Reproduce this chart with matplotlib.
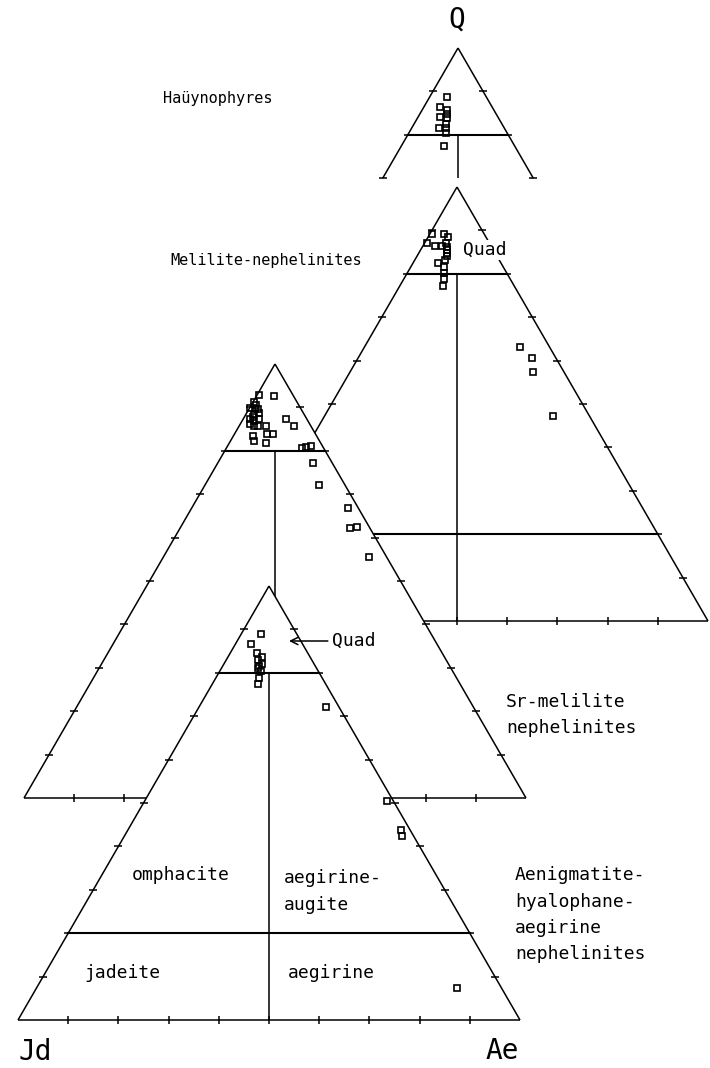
import matplotlib.pyplot as plt
import numpy as np

# pyroxene analyses as Q and Ae (mol %), Jd = 100 - Q - Ae
hauyn_q = [88.8, 86.3, 85.7, 84.8, 84.0, 83.8, 82.6, 81.5, 81.6, 80.3, 77.5]
hauyn_ae = [3.4, 3.2, 5.0, 5.5, 4.4, 6.0, 6.4, 5.5, 6.8, 7.4, 8.5]

melneph_q = [89.2, 87.2, 89.2, 88.4, 86.4, 86.5, 87.0, 86.2, 85.5, 84.8, 84.2,
             82.6, 83.2, 81.5, 80.1, 78.8, 77.2, 63.1, 60.7, 57.3, 47.2]
melneph_ae = [0.5, 0.5, 2.8, 4.1, 2.4, 3.7, 4.3, 4.9, 5.3, 5.7, 6.0,
              5.0, 6.0, 6.7, 7.4, 8.1, 8.6, 31.0, 34.5, 36.5, 45.6]

srmel_q = [92.9, 92.7, 89.8, 91.2, 89.6, 89.6, 87.3, 87.7, 87.3, 86.2, 85.8,
           85.6, 85.8, 83.9, 83.9, 83.5, 82.3, 81.8, 87.3, 85.8, 80.6, 80.8,
           81.2, 77.2, 72.2, 66.8, 62.1, 62.5, 55.6, 90.5, 88.5, 88.8, 86.8]
srmel_ae = [0.3, 3.5, 0.2, 0.3, 1.2, 1.9, 1.4, 1.8, 3.2, 1.9, 2.9,
            3.9, 5.3, 6.4, 7.6, 3.9, 4.7, 7.3, 8.6, 10.8, 15.0, 15.8,
            16.6, 18.9, 22.7, 31.2, 33.8, 35.0, 41.0, 1.0, 1.5, 2.5, 2.4]

aenig_q = [88.9, 86.6, 84.6, 83.6, 82.9, 82.0, 81.1, 80.4, 81.6, 78.7, 77.4,
           72.1, 50.5, 43.8, 42.4, 7.4]
aenig_ae = [3.9, 3.1, 5.3, 6.8, 6.4, 7.6, 7.3, 8.2, 7.2, 8.6, 9.2,
            25.3, 48.2, 54.4, 55.3, 83.8]

tick_levels = [10, 20, 30, 40, 50, 60, 70, 80, 90]

SIDE = 502.0
HGT = 434.0

plt.rcParams['font.family'] = ['DejaVu Sans Mono']


def tern(q, ae, apex):
    q = np.asarray(q, float)
    ae = np.asarray(ae, float)
    x = apex[0] - SIDE / 2 + SIDE * (ae + q / 2) / 100
    y = apex[1] + HGT * (1 - q / 100)
    return x, y


def frame(ax, apex, z, qmin=0, lower=True, fill=True):
    kw = dict(color='black', lw=1.1, zorder=z + 1, solid_capstyle='butt')
    if fill:
        px, py = tern([100, 0, 0], [0, 0, 100], apex)
        ax.fill(px, py, color='white', zorder=z, lw=0)
    ax.plot(*tern([100, qmin], [0, 0], apex), **kw)
    ax.plot(*tern([100, qmin], [0, 100 - qmin], apex), **kw)
    if qmin == 0:
        ax.plot(*tern([0, 0], [0, 100], apex), **kw)
    ax.plot(*tern([80, 80], [0, 20], apex), color='black', lw=1.5, zorder=z + 1)
    if lower and qmin <= 20:
        ax.plot(*tern([20, 20], [0, 80], apex), color='black', lw=1.5, zorder=z + 1)
    ax.plot(*tern([80, qmin], [10, (100 - qmin) / 2], apex), **kw)
    lv = [t for t in tick_levels if t >= qmin]
    tk = dict(ls='none', color='black', ms=5.5, mew=1.1, zorder=z + 1)
    ax.plot(*tern(lv, [0] * len(lv), apex), marker='_', **tk)
    ax.plot(*tern(lv, [100 - t for t in lv], apex), marker='_', **tk)
    if qmin == 0:
        ax.plot(*tern([0] * 9, tick_levels, apex), marker='|', **tk)


def points(ax, q, ae, apex, z):
    ax.plot(*tern(q, ae, apex), ls='none', marker='s', ms=4.8, mfc='none',
            mec='black', mew=1.2, zorder=z + 2)


fig = plt.figure(figsize=(7.1, 10.68), dpi=100)
ax = fig.add_axes([0, 0, 1, 1])
ax.set_xlim(0, 710)
ax.set_ylim(1068, 0)
ax.axis('off')

apex1 = (458, 48)
apex2 = (457, 187)
apex3 = (275, 364)
apex4 = (269, 586)

frame(ax, apex1, 1, qmin=70, fill=False)
points(ax, hauyn_q, hauyn_ae, apex1, 1)
frame(ax, apex2, 4)
points(ax, melneph_q, melneph_ae, apex2, 4)
frame(ax, apex3, 7, lower=False)
points(ax, srmel_q, srmel_ae, apex3, 7)
frame(ax, apex4, 10)
points(ax, aenig_q, aenig_ae, apex4, 10)

big = dict(fontsize=20, ha='center', va='center', zorder=20)
ax.text(457, 20, 'Q', **big)
ax.text(35, 1052, 'Jd', **big)
ax.text(502, 1051, 'Ae', **big)

small = dict(fontsize=11, ha='left', va='center', zorder=20)
ax.text(163, 98, 'Haüynophyres', **small)
ax.text(170, 260, 'Melilite-nephelinites', **small)

lab = dict(fontsize=13, ha='left', va='center', zorder=20)
for s, yy in [('Sr-melilite', 702), ('nephelinites', 728)]:
    ax.text(506, yy, s, **lab)
for s, yy in [('Aenigmatite-', 875), ('hyalophane-', 902),
              ('aegirine', 928), ('nephelinites', 954)]:
    ax.text(515, yy, s, **lab)

ax.text(463, 250, 'Quad', fontsize=13, ha='left', va='center', zorder=20,
        bbox=dict(fc='white', ec='none', pad=0.5))
ax.annotate('Quad', xy=(289, 641), xytext=(332, 641), fontsize=13,
            ha='left', va='center', zorder=20,
            arrowprops=dict(arrowstyle='->', color='black', lw=1.1,
                            shrinkA=1, shrinkB=0))

ax.text(132, 875, 'omphacite', **lab)
ax.text(284, 878, 'aegirine-', **lab)
ax.text(284, 905, 'augite', **lab)
ax.text(84, 973, 'jadeite', **lab)
ax.text(288, 973, 'aegirine', **lab)

fig.savefig('out.png', dpi=100)
